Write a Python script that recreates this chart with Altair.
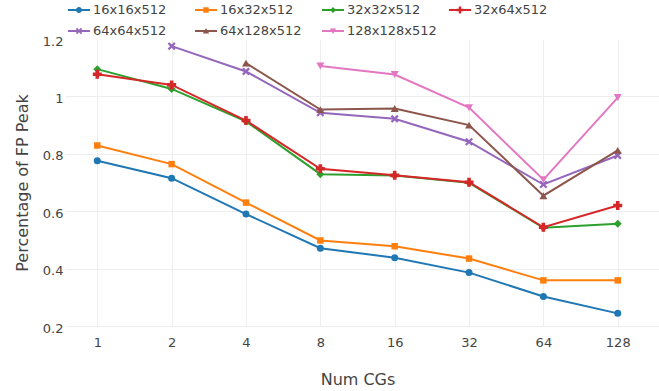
import altair as alt
import pandas as pd

cgs = ["1", "2", "4", "8", "16", "32", "64", "128"]
series_names = ["16x16x512", "16x32x512", "32x32x512", "32x64x512",
                "64x64x512", "64x128x512", "128x128x512"]
s16x16 = [0.776, 0.715, 0.590, 0.471, 0.438, 0.386, 0.303, 0.244]
s16x32 = [0.829, 0.764, 0.630, 0.498, 0.478, 0.435, 0.359, 0.359]
s32x32 = [1.095, 1.026, 0.913, 0.729, 0.724, 0.699, 0.542, 0.556]
s32x64 = [1.077, 1.040, 0.916, 0.748, 0.725, 0.701, 0.544, 0.620]
s64x64 = [None, 1.175, 1.087, 0.943, 0.922, 0.842, 0.693, 0.794]
s64x128 = [None, None, 1.116, 0.954, 0.958, 0.900, 0.654, 0.812]
s128x128 = [None, None, None, 1.106, 1.076, 0.961, 0.710, 0.996]
y_ticks = [0.2, 0.4, 0.6, 0.8, 1.0, 1.2]

all_series = [s16x16, s16x32, s32x32, s32x64, s64x64, s64x128, s128x128]
rows = []
for name, vals in zip(series_names, all_series):
    for cg, v in zip(cgs, vals):
        if v is not None:
            rows.append({"series": name, "cgs": cg, "value": v})
df = pd.DataFrame(rows)

colors = ["#1f77b4", "#ff7f0e", "#2ca02c", "#d62728", "#9467bd", "#8c564b", "#e377c2"]

XPATH = ("M-1,-0.6 L-0.6,-1 L0,-0.4 L0.6,-1 L1,-0.6 L0.4,0 L1,0.6 L0.6,1 "
         "L0,0.4 L-0.6,1 L-1,0.6 L-0.4,0 Z")
marker_shapes = ["circle", "square", "diamond", "cross", XPATH, "triangle-up", "triangle-down"]
marker_sizes = [49, 42, 64, 81, 64, 64, 64]

# legend symbols: line + small marker (unit box scaled by 8 px)
LINE = "M-1.375,-0.125 L1.375,-0.125 L1.375,0.125 L-1.375,0.125 Z "
r = 0.375
legend_shapes = [
    LINE + f"M{r},0 A{r},{r} 0 1,1 -{r},0 A{r},{r} 0 1,1 {r},0 Z",
    LINE + f"M-{r*0.9},-{r*0.9} L{r*0.9},-{r*0.9} L{r*0.9},{r*0.9} L-{r*0.9},{r*0.9} Z",
    LINE + f"M0,-{r} L{r},0 L0,{r} L-{r},0 Z",
    LINE + "M-0.15,-0.45 L0.15,-0.45 L0.15,-0.15 L0.45,-0.15 L0.45,0.15 L0.15,0.15 "
           "L0.15,0.45 L-0.15,0.45 L-0.15,0.15 L-0.45,0.15 L-0.45,-0.15 L-0.15,-0.15 Z",
    LINE + "M-0.4,-0.24 L-0.24,-0.4 L0,-0.16 L0.24,-0.4 L0.4,-0.24 L0.16,0 L0.4,0.24 "
           "L0.24,0.4 L0,0.16 L-0.24,0.4 L-0.4,0.24 L-0.16,0 Z",
    LINE + "M0,-0.36 L0.4,0.3 L-0.4,0.3 Z",
    LINE + "M-0.4,-0.3 L0.4,-0.3 L0,0.36 Z",
]

FONT = "DejaVu Sans"
TXT = "#444444"

x_enc = alt.X(
    "cgs:O",
    scale=alt.Scale(type="point", domain=cgs, padding=0.4946, align=0.439),
    axis=alt.Axis(
        title="Num CGs", labelAngle=0, labelPadding=10, ticks=False, domain=False,
        grid=True, gridColor="#eeeeee", labelFont=FONT, labelFontSize=13,
        labelColor=TXT, titleFont=FONT, titleFontSize=16, titleFontWeight="normal",
        titleColor=TXT, titleX=292.5, titleY=53, titleBaseline="middle",
    ),
)
y_enc = alt.Y(
    "value:Q",
    scale=alt.Scale(domain=[0.2, 1.2], nice=False, zero=False),
    axis=alt.Axis(
        title="Percentage of FP Peak", values=y_ticks, format="~g", ticks=False,
        domain=False, labelPadding=2, labelOffset=2, grid=True, gridColor="#eeeeee",
        gridOpacity=alt.condition("datum.value > 1.19", alt.value(0), alt.value(1)),
        labelFont=FONT, labelFontSize=13, labelColor=TXT, titleFont=FONT,
        titleFontSize=16, titleFontWeight="normal", titleColor=TXT,
        titleX=-43, titleBaseline="middle",
    ),
)

base = alt.Chart(df)

lines = base.mark_line(strokeWidth=2).encode(
    x=x_enc, y=y_enc,
    color=alt.Color("series:N", scale=alt.Scale(domain=series_names, range=colors), legend=None),
    detail="series:N",
)

points = base.mark_point(filled=True, opacity=1).encode(
    x=x_enc, y=y_enc,
    color=alt.Color("series:N", scale=alt.Scale(domain=series_names, range=colors), legend=None),
    shape=alt.Shape("series:N", scale=alt.Scale(domain=series_names, range=marker_shapes), legend=None),
    size=alt.Size("series:N", scale=alt.Scale(type="ordinal", domain=series_names, range=marker_sizes), legend=None),
)

legend = alt.Legend(
    orient="none", legendX=6, legendY=-37, direction="horizontal", columns=4,
    title=None, gridAlign="all", columnPadding=12, rowPadding=6, symbolSize=256,
    labelOffset=6, labelFont=FONT, labelFontSize=13, labelColor=TXT,
    symbolStrokeWidth=0, padding=0, labelLimit=0, symbolOpacity=1,
)

legend_layer = base.transform_filter("datum.value < 0").mark_point(filled=True, opacity=1).encode(
    x=x_enc, y=y_enc,
    color=alt.Color("series:N", scale=alt.Scale(domain=series_names, range=colors), legend=legend),
    shape=alt.Shape("series:N", scale=alt.Scale(domain=series_names, range=legend_shapes), legend=legend),
)

chart = alt.layer(lines, points, legend_layer).resolve_scale(
    color="independent", shape="independent"
).properties(
    width=594, height=287,
    autosize=alt.AutoSizeParams(type="none"),
    padding={"left": 65, "top": 39, "right": 0, "bottom": 65},
).configure_view(stroke=None)

chart.save("out.html", embed_options={"renderer": "svg", "actions": False})
